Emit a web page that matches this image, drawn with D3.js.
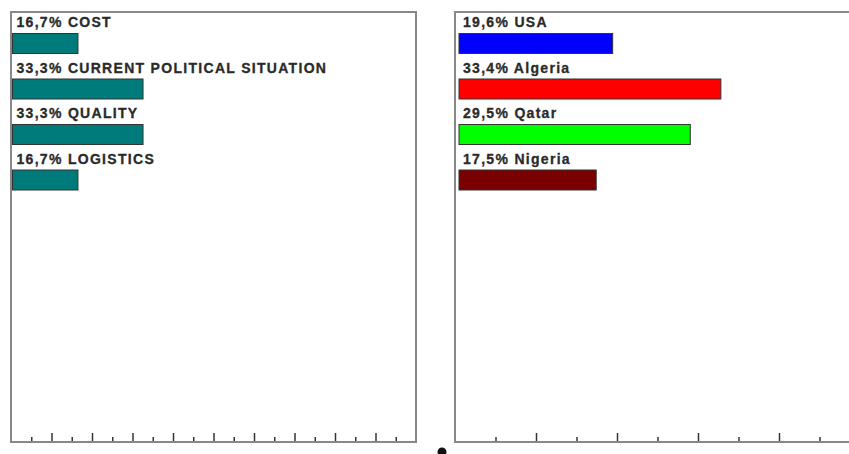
<!DOCTYPE html>
<html>
<head>
<meta charset="utf-8">
<script src="https://d3js.org/d3.v7.min.js"></script>
<style>
  body { margin: 0; background: #fff; }
  .lbl { font-family: "Liberation Sans", Arial, sans-serif; font-weight: bold; font-size: 14px;
         letter-spacing: 1.3px; fill: #2a2a2a; stroke: #2a2a2a; stroke-width: 0.3px; }
</style>
</head>
<body>
<div id="chart"></div>
<script>
// left panel: reasons
var reasons = ["COST", "CURRENT POLITICAL SITUATION", "QUALITY", "LOGISTICS"];
var reasonShares = [16.7, 33.3, 33.3, 16.7];
var reasonLabels = ["16,7%", "33,3%", "33,3%", "16,7%"];

// right panel: countries
var countries = ["USA", "Algeria", "Qatar", "Nigeria"];
var countryShares = [19.6, 33.4, 29.5, 17.5];
var countryLabels = ["19,6%", "33,4%", "29,5%", "17,5%"];
var countryColors = ["#0000ff", "#ff0000", "#00ff00", "#7a0000"];

var W = 849, H = 454;
var svg = d3.select("#chart").append("svg")
  .attr("width", W).attr("height", H);

function panel(cfg) {
  var g = svg.append("g");
  var x = d3.scaleLinear().domain([0, cfg.max]).range([cfg.left + cfg.pad, cfg.left + cfg.pad + 392]);
  var y = d3.scaleBand().domain(d3.range(cfg.names.length)).range([11, 11 + 45.5 * cfg.names.length]);

  // frame
  g.append("rect")
    .attr("x", cfg.left).attr("y", 12)
    .attr("width", 405).attr("height", 430)
    .attr("fill", "#fff").attr("stroke", "#888").attr("stroke-width", 2);

  // ticks along bottom
  var tx = d3.scaleLinear().domain([0, cfg.nTicks]).range([cfg.left, cfg.left + 405]);
  var axis = d3.axisBottom(tx)
    .tickValues(d3.range(1, cfg.nTicks))
    .tickSize(-4).tickFormat("");
  var ax = g.append("g").attr("transform", "translate(0,441)").call(axis);
  ax.select(".domain").remove();
  ax.selectAll(".tick line")
    .attr("stroke", "#333").attr("stroke-width", 1.5)
    .attr("y2", function(d) { return d % 2 === 0 ? -8 : -4; });

  var rows = g.selectAll(".row").data(cfg.names).enter().append("g")
    .attr("class", "row")
    .attr("transform", function(d, i) { return "translate(0," + y(i) + ")"; });

  rows.append("text")
    .attr("class", "lbl")
    .attr("x", cfg.left + cfg.pad + 4)
    .attr("y", 16.3)
    .text(function(d, i) { return cfg.labels[i] + " " + d; });

  rows.append("rect")
    .attr("x", x(0))
    .attr("y", 22.5)
    .attr("width", function(d, i) { return x(cfg.values[i]) - x(0); })
    .attr("height", 20)
    .attr("fill", function(d, i) { return cfg.colors[i]; })
    .attr("stroke", "#333").attr("stroke-width", 1);
}

panel({ left: 11, pad: 1.5, max: 100, nTicks: 20, names: reasons, values: reasonShares,
        labels: reasonLabels, colors: reasons.map(function() { return "#007b7b"; }) });
panel({ left: 455, pad: 4, max: 50, nTicks: 10, names: countries, values: countryShares,
        labels: countryLabels, colors: countryColors });

// stray bullet under the gap
svg.append("circle").attr("cx", 442).attr("cy", 452).attr("r", 4.5).attr("fill", "#111");
</script>
</body>
</html>
